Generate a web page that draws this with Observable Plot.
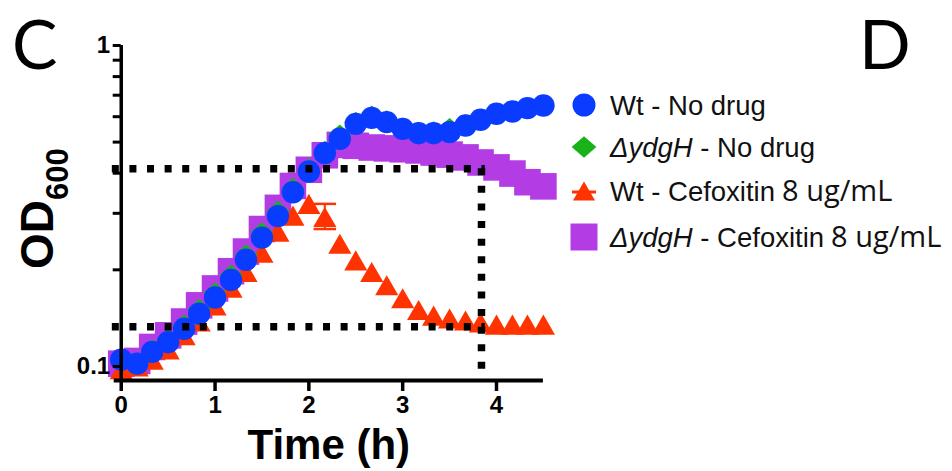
<!DOCTYPE html>
<html>
<head>
<meta charset="utf-8">
<script src="https://cdn.jsdelivr.net/npm/d3@7"></script>
<script src="https://cdn.jsdelivr.net/npm/@observablehq/plot@0.6"></script>
<style>
  html, body { margin: 0; padding: 0; background: #fff; }
  #wrap { position: relative; width: 952px; height: 471px; overflow: hidden; }
  #overlay { position: absolute; left: 0; top: 0; pointer-events: none; }
  #chart svg g[aria-label$="tick label"] text { font-size: 24px !important; font-weight: bold !important; }
</style>
</head>
<body>
<div id="wrap">
  <div id="chart"></div>
  <svg id="overlay" width="952" height="471"></svg>
</div>
<script>
// ---------- data ----------
const times = [0, 0.17, 0.33, 0.5, 0.67, 0.83, 1, 1.17, 1.33, 1.5, 1.67, 1.83, 2, 2.17,
               2.33, 2.5, 2.67, 2.83, 3, 3.17, 3.33, 3.5, 3.67, 3.83, 4, 4.17, 4.33, 4.5];

const wtNoDrug = [0.105, 0.102, 0.111, 0.119, 0.131, 0.146, 0.164, 0.186, 0.215, 0.252, 0.294, 0.349, 0.405, 0.462,
                  0.512, 0.570, 0.595, 0.577, 0.550, 0.533, 0.533, 0.537, 0.563, 0.587, 0.613, 0.623, 0.638, 0.650];

const ydgHNoDrug = [0.104, 0.103, 0.113, 0.122, 0.135, 0.151, 0.170, 0.193, 0.223, 0.262, 0.305, 0.360, 0.414, 0.470,
                    0.528, 0.578, 0.605, 0.585, 0.555, 0.538, 0.540, 0.553, 0.569, 0.590, 0.612, 0.622, 0.635, 0.648];

const wtCefoxitin = [0.098, 0.100, 0.105, 0.113, 0.125, 0.138, 0.155, 0.176, 0.197, 0.226, 0.263, 0.295, 0.321, 0.292,
                     0.241, 0.214, 0.197, 0.179, 0.163, 0.150, 0.144, 0.141, 0.139, 0.137, 0.135, 0.135, 0.135, 0.135];

const ydgHCefoxitin = [0.102, 0.104, 0.115, 0.125, 0.138, 0.155, 0.175, 0.198, 0.228, 0.268, 0.312, 0.365, 0.410, 0.455,
                       0.490, 0.487, 0.481, 0.478, 0.475, 0.471, 0.464, 0.457, 0.448, 0.432, 0.417, 0.399, 0.375, 0.364];

// visible error bar (Wt - Cefoxitin)
const errTime = [2.17];
const errLow = [0.268];
const errHigh = [0.321];

// dotted guide lines
const guideY = [0.413, 0.133];
const guideX = [3.84];
const guideStart = -0.095;

// axes
const xTicks = [0, 1, 2, 3, 4];
const yTicks = [0.1, 0.2, 0.3, 0.4, 0.5, 0.6, 0.7, 0.8, 0.9, 1];
const yTickLabels = [0.1, 1];
const xDomain = [-0.075, 4.5];
const yDomain = [0.0904, 1];

// legend
const seriesNames = ["Wt - No drug", "ΔydgH - No drug", "Wt - Cefoxitin 8 ug/mL", "ΔydgH - Cefoxitin 8 ug/mL"];
const seriesColors = ["#0a3cff", "#19b319", "#ff3300", "#b43ce4"];

// ---------- symbols ----------
const triangleMid = {
  draw(ctx, size) {
    const s = Math.sqrt(size * 4 / Math.sqrt(3));
    const h = s * Math.sqrt(3) / 2;
    ctx.moveTo(0, -h / 2);
    ctx.lineTo(s / 2, h / 2);
    ctx.lineTo(-s / 2, h / 2);
    ctx.closePath();
  }
};
const diamondWide = {
  draw(ctx, size) {
    const a = Math.sqrt(size / 1.74);
    const b = a * 0.87;
    ctx.moveTo(0, -b);
    ctx.lineTo(a, 0);
    ctx.lineTo(0, b);
    ctx.lineTo(-a, 0);
    ctx.closePath();
  }
};

const rows = (vals) => times.map((t, i) => ({t, v: vals[i]}));
const errRows = errTime.map((t, i) => ({t, lo: errLow[i], hi: errHigh[i]}));
const capHalf = 0.12;

const dotted = {stroke: "black", strokeWidth: 7.5, strokeDasharray: "7 10.6"};

const chart = Plot.plot({
  width: 952,
  height: 471,
  marginLeft: 113.7,
  marginRight: 409.1,
  marginTop: 45,
  marginBottom: 91,
  x: {domain: xDomain},
  y: {type: "log", domain: yDomain},
  style: {fontFamily: "'Liberation Sans', Arial, sans-serif", background: "white", fontSize: "24px"},
  marks: [
    // error bar
    Plot.ruleX(errRows, {x: "t", y1: "lo", y2: "hi", stroke: seriesColors[2], strokeWidth: 2}),
    Plot.link(errRows, {x1: d => d.t - capHalf, x2: d => d.t + capHalf, y1: "lo", y2: "lo", stroke: seriesColors[2], strokeWidth: 2.5}),
    Plot.link(errRows, {x1: d => d.t - capHalf, x2: d => d.t + capHalf, y1: "hi", y2: "hi", stroke: seriesColors[2], strokeWidth: 2.5}),
    // series (back to front)
    Plot.dot(rows(ydgHCefoxitin), {x: "t", y: "v", symbol: "square", r: 15, fill: seriesColors[3]}),
    Plot.dot(rows(wtCefoxitin), {x: "t", y: "v", symbol: triangleMid, r: 8.6, fill: seriesColors[2]}),
    Plot.dot(rows(ydgHNoDrug), {x: "t", y: "v", symbol: diamondWide, r: 8.6, fill: seriesColors[1]}),
    Plot.dot(rows(wtNoDrug), {x: "t", y: "v", symbol: "circle", r: 11.2, fill: seriesColors[0]}),
    // dotted guides
    Plot.ruleY(guideY, {x1: guideStart, x2: guideX[0] + 0.04, ...dotted}),
    Plot.ruleX(guideX, {y1: guideY[0], y2: yDomain[0], ...dotted}),
    // axis lines
    Plot.ruleY([yDomain[0]], {x1: xDomain[0], x2: xDomain[1], stroke: "black", strokeWidth: 4}),
    Plot.ruleX([0], {y1: yDomain[0], y2: yDomain[1], stroke: "black", strokeWidth: 3.5}),
    // axes
    Plot.axisX(xTicks, {tickSize: 11, strokeWidth: 3.5, tickPadding: 4, fontSize: 24, fontWeight: "bold", label: null}),
    Plot.axisY(yTicks, {anchor: "left", dx: 7, tickSize: 8, strokeWidth: 3, tickPadding: 3, fontSize: 24, fontWeight: "bold",
      tickFormat: d => yTickLabels.includes(d) ? String(d) : "", label: null}),
    // x axis title
    Plot.text(["Time (h)"], {frameAnchor: "bottom", dy: 65, lineAnchor: "middle", fontSize: 42, fontWeight: "bold", fill: "black"})
  ]
});
document.getElementById("chart").appendChild(chart);

// ---------- overlay: panel letters, y-axis title, legend ----------
const ov = d3.select("#overlay");
ov.append("text").attr("x", 12).attr("y", 69).attr("font-family", "Lato, sans-serif")
  .attr("font-size", 68).attr("fill", "black").text("C");
ov.append("text").attr("x", 859).attr("y", 69).attr("font-family", "Lato, sans-serif")
  .attr("font-size", 68).attr("fill", "black").text("D");

const yl = ov.append("text").attr("transform", "translate(53,269) rotate(-90)")
  .attr("font-family", "'Liberation Sans', Arial, sans-serif").attr("font-weight", "bold")
  .attr("font-size", 46).attr("fill", "black");
yl.append("tspan").text("OD");
yl.append("tspan").attr("font-size", 31).attr("dy", 15).text("600");

const legendSymbols = [d3.symbolCircle, diamondWide, triangleMid, d3.symbolSquare];
const legendSizes = [Math.PI * 11.5 * 11.5, Math.PI * 9.2 * 9.2, Math.PI * 8.2 * 8.2, 27 * 27];
const legendY = [105, 147, 191, 237];
seriesNames.forEach((name, i) => {
  const g = ov.append("g").attr("transform", `translate(584,${legendY[i]})`);
  if (i === 2) {
    g.append("line").attr("x1", -12).attr("x2", 12).attr("y1", 1).attr("y2", 1)
      .attr("stroke", seriesColors[i]).attr("stroke-width", 3);
  }
  g.append("path").attr("d", d3.symbol(legendSymbols[i], legendSizes[i])()).attr("fill", seriesColors[i]);
  const t = ov.append("text").attr("x", 610).attr("y", legendY[i] + 9.5)
    .attr("font-family", "'Liberation Sans', Arial, sans-serif").attr("font-size", 27.5).attr("fill", "#111");
  let rest = name;
  if (rest.startsWith("ΔydgH")) {
    t.append("tspan").attr("font-style", "italic").text("ΔydgH");
    rest = rest.slice(5);
  }
  const k = rest.indexOf(" 8 ug/mL");
  if (k >= 0) {
    t.append("tspan").text(rest.slice(0, k));
    t.append("tspan").attr("font-family", "'Open Sans', sans-serif").attr("font-size", 29).attr("dx", 7).text("8 ug/mL");
  } else {
    t.append("tspan").text(rest);
  }
});
</script>
</body>
</html>
